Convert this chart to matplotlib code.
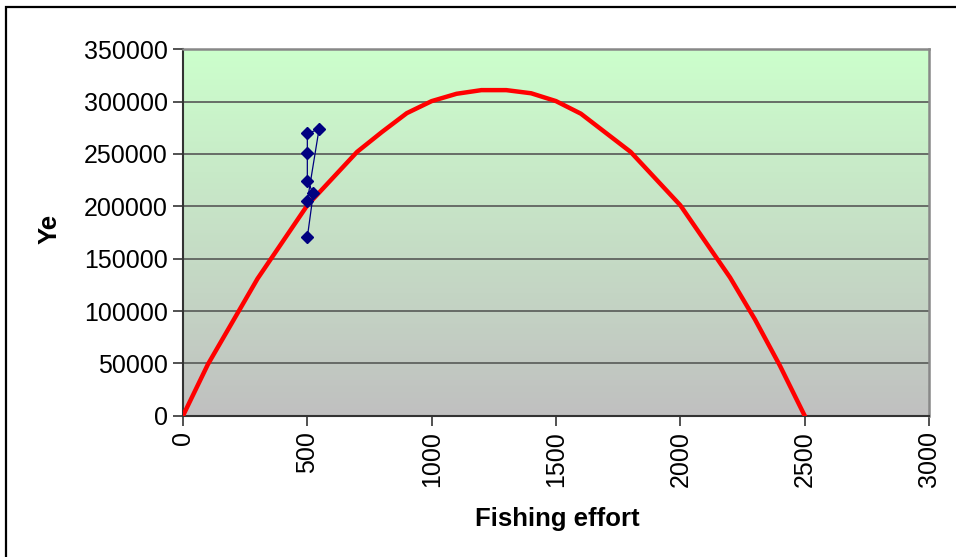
import numpy as np
import matplotlib
matplotlib.use("Agg")
import matplotlib.pyplot as plt
from matplotlib.colors import LinearSegmentedColormap
from matplotlib.patches import Rectangle

plt.rcParams['font.family'] = ['Liberation Sans', 'DejaVu Sans']

# equilibrium yield curve
effort = [0, 100, 300, 500, 700, 800, 900, 1000, 1100, 1200, 1300, 1400,
          1500, 1600, 1800, 2000, 2200, 2300, 2400, 2500]
ye = [0, 49000, 131000, 201000, 252000, 271000, 289000, 300500, 307500, 311000,
      311000, 308000, 300500, 288500, 252000, 201000, 132000, 92000, 48000, 0]

# observed catch / effort
obs_effort = [500, 524, 500, 500, 500, 547, 500]
obs_catch = [170400, 212400, 224200, 250600, 269700, 273600, 205100]

x_ticks = [0, 500, 1000, 1500, 2000, 2500, 3000]
y_ticks = [0, 50000, 100000, 150000, 200000, 250000, 300000, 350000]

fig = plt.figure(figsize=(9.56, 5.57), dpi=100)
ax = fig.add_axes([183/956, 1 - 415.7/557, (929 - 183)/956, (415.7 - 49.3)/557])

# green to grey gradient behind the plot
cmap = LinearSegmentedColormap.from_list("bg", ["#C0C0C0", "#CCFFCC"])
grad = np.linspace(0, 1, 256).reshape(-1, 1)
ax.imshow(grad, cmap=cmap, aspect="auto", origin="lower",
          extent=[0, 1, 0, 1], transform=ax.transAxes, zorder=0)

for yv in y_ticks[1:]:
    ax.axhline(yv, color="#5f635f", lw=1.3, zorder=1)

ax.plot(effort, ye, color="#FF0000", lw=3.2, zorder=3, solid_joinstyle="miter")
ax.plot(obs_effort, obs_catch, color="#000080", lw=0.9, marker="D",
        markersize=6, markerfacecolor="#000080", markeredgecolor="#000080", zorder=4)

ax.set_xlim(0, 3000)
ax.set_ylim(0, 350000)
ax.set_xticks(x_ticks)
ax.set_yticks(y_ticks)
ax.set_xticklabels([str(v) for v in x_ticks], rotation=90)
ax.set_yticklabels([str(v) for v in y_ticks])
ax.tick_params(axis="both", labelsize=18, direction="out", length=7, width=1.2,
               color="#333333", pad=4)

ax.spines["left"].set_color("#333333")
ax.spines["bottom"].set_color("#333333")
ax.spines["left"].set_linewidth(1.5)
ax.spines["bottom"].set_linewidth(1.5)
ax.spines["top"].set_color("#888888")
ax.spines["right"].set_color("#888888")
ax.spines["top"].set_linewidth(1.8)
ax.spines["right"].set_linewidth(1.8)

ax.set_xlabel("Fishing effort", fontsize=18.5, fontweight="bold")
ax.set_ylabel("Ye", fontsize=18.5, fontweight="bold")
ax.xaxis.set_label_coords((557 - 183) / (929 - 183), -(507 - 415.7) / 366.4)
ax.yaxis.set_label_coords(-(183 - 62) / (929 - 183), (415.7 - 229) / 366.4)

# outer chart border (right and bottom edges fall outside the picture)
fig.add_artist(Rectangle((6/956, -0.1), 1.2, 1.1 - 7/557, fill=False,
                         edgecolor="black", lw=1.6, transform=fig.transFigure,
                         clip_on=False))

fig.savefig("out.png", dpi=100)
